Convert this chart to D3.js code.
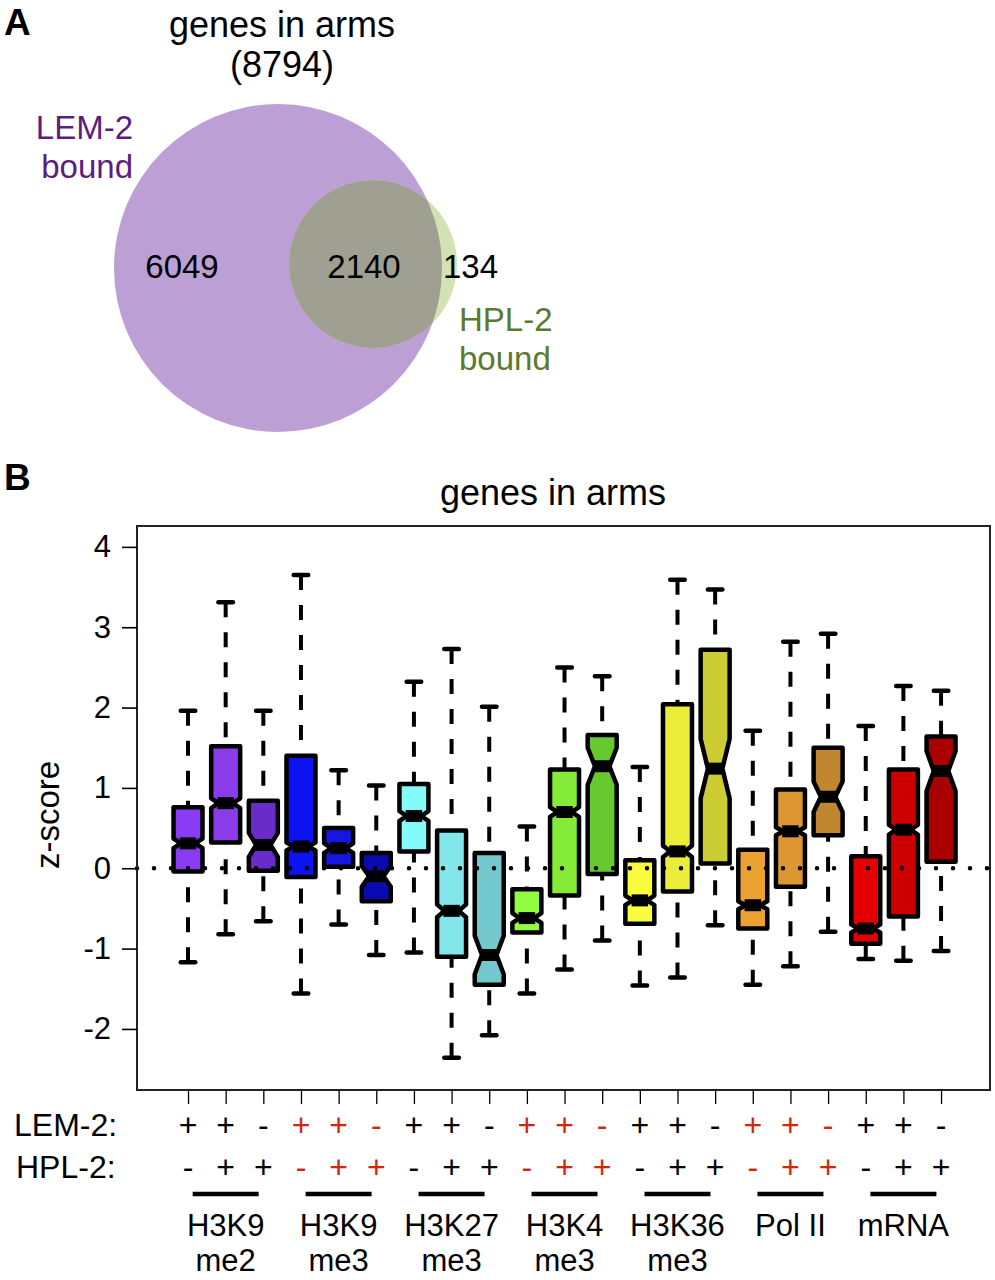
<!DOCTYPE html>
<html>
<head>
<meta charset="utf-8">
<script src="https://cdn.jsdelivr.net/npm/d3@7"></script>
<style>
body { margin: 0; background: #fff; }
svg { display: block; }
text { font-family: "Liberation Sans", Arial, Helvetica, sans-serif; }
</style>
</head>
<body>
<div id="chart"></div>
<script>
// panel A counts
const vennTitle = ["genes in arms", "(8794)"];
const vennCounts = ["6049", "2140", "134"];   // LEM-2 only, both, HPL-2 only

// panel B: 7 marks x 3 conditions
const groupTop = ["H3K9", "H3K9", "H3K27", "H3K4", "H3K36", "Pol II", "mRNA"];
const groupBottom = ["me2", "me3", "me3", "me3", "me3", "", ""];
const lemSigns = ["+", "+", "-"];
const hplSigns = ["-", "+", "+"];
const redGroup = [false, true, false, true, false, true, false];
const yTicks = [-2, -1, 0, 1, 2, 3, 4];

const boxColors = ["#8a3cf4", "#8a3ce8", "#6a2cc8", "#0c12f0", "#1616e0", "#0a0ab2",
  "#84fafa", "#82e6ea", "#72c8cc", "#94fc40", "#84ec38", "#68c830",
  "#fcfc3e", "#ecec3a", "#cccc34", "#eca230", "#dc9632", "#c08630",
  "#e40000", "#cc0000", "#aa0000"];

const whiskerHigh = [1.96, 3.31, 1.96, 3.65, 1.22, 1.03, 2.32, 2.73, 2.01, 0.52, 2.50, 2.39, 1.26, 3.59, 3.47, 1.71, 2.82, 2.92, 1.77, 2.27, 2.21];
const upperQ = [0.76, 1.52, 0.84, 1.40, 0.50, 0.19, 1.05, 0.47, 0.19, -0.26, 1.23, 1.66, 0.10, 2.04, 2.72, 0.23, 0.98, 1.50, 0.15, 1.23, 1.64];
const medians = [0.31, 0.81, 0.29, 0.27, 0.25, -0.10, 0.65, -0.53, -1.08, -0.62, 0.70, 1.27, -0.40, 0.21, 1.24, -0.46, 0.46, 0.89, -0.75, 0.48, 1.21];
const lowerQ = [-0.04, 0.32, -0.03, -0.11, 0.02, -0.41, 0.21, -1.10, -1.45, -0.80, -0.34, -0.07, -0.69, -0.29, 0.06, -0.75, -0.23, 0.41, -0.94, -0.60, 0.08];
const whiskerLow = [-1.17, -0.82, -0.66, -1.56, -0.70, -1.08, -1.05, -2.36, -2.08, -1.56, -1.26, -0.90, -1.46, -1.36, -0.71, -1.45, -1.22, -0.79, -1.13, -1.15, -1.03];
const notchHalf = [0.06, 0.06, 0.15, 0.05, 0.06, 0.13, 0.06, 0.08, 0.24, 0.06, 0.06, 0.23, 0.06, 0.07, 0.37, 0.05, 0.05, 0.19, 0.05, 0.06, 0.25];

const svg = d3.select("#chart").append("svg")
  .attr("width", 995)
  .attr("height", 1280);

// ---------- panel A: venn ----------
svg.append("text").text("A")
  .attr("x", 4).attr("y", 35)
  .attr("font-size", 37).attr("font-weight", "bold");

svg.selectAll(".vtitle")
  .data(vennTitle)
  .join("text")
  .attr("class", "vtitle")
  .text(d => d)
  .attr("x", 282)
  .attr("y", (d, i) => 37 + i * 40)
  .attr("text-anchor", "middle")
  .attr("font-size", 36);

const lem = {cx: 278, cy: 268, r: 164};
const hpl = {cx: 373, cy: 264, r: 84};

svg.append("defs").append("clipPath")
  .attr("id", "hplClip")
  .append("circle")
  .attr("cx", hpl.cx).attr("cy", hpl.cy).attr("r", hpl.r);

svg.append("circle") // LEM-2 set
  .attr("cx", lem.cx).attr("cy", lem.cy).attr("r", lem.r)
  .attr("fill", "#bb9fd5");
svg.append("circle") // HPL-2 set
  .attr("cx", hpl.cx).attr("cy", hpl.cy).attr("r", hpl.r)
  .attr("fill", "#d2e2b5");
svg.append("circle") // overlap
  .attr("cx", lem.cx).attr("cy", lem.cy).attr("r", lem.r)
  .attr("clip-path", "url(#hplClip)")
  .attr("fill", "#9fa092");

svg.selectAll(".vcount")
  .data(vennCounts)
  .join("text")
  .attr("class", "vcount")
  .text(d => d)
  .attr("x", (d, i) => [182, 364, 443][i])
  .attr("y", 278)
  .attr("text-anchor", (d, i) => i == 2 ? "start" : "middle")
  .attr("font-size", 33);

svg.selectAll(".lemlab")
  .data(["LEM-2", "bound"])
  .join("text")
  .attr("class", "lemlab")
  .text(d => d)
  .attr("x", 133)
  .attr("y", (d, i) => 139 + i * 39)
  .attr("text-anchor", "end")
  .attr("font-size", 33)
  .attr("fill", "#5c1e7e");

svg.selectAll(".hpllab")
  .data(["HPL-2", "bound"])
  .join("text")
  .attr("class", "hpllab")
  .text(d => d)
  .attr("x", 459)
  .attr("y", (d, i) => 331 + i * 39)
  .attr("font-size", 33)
  .attr("fill", "#5b7a2c");

// ---------- panel B: boxplots ----------
const margin = {top: 526, right: 5, bottom: 1090, left: 137};

svg.append("text").text("B")
  .attr("x", 4).attr("y", 490)
  .attr("font-size", 37).attr("font-weight", "bold");

svg.append("text").text("genes in arms")
  .attr("x", 553).attr("y", 505)
  .attr("text-anchor", "middle")
  .attr("font-size", 36);

const x = d3.scaleLinear()
  .domain([-0.355, 22.3])
  .range([margin.left, 995 - margin.right]);

const y = d3.scaleLinear()
  .domain([-2.76, 4.26])
  .range([margin.bottom, margin.top]);

const halfW = (x(1) - x(0)) * 0.385;

const boxes = boxColors.map((c, i) => ({
  pos: i + 1, color: c,
  hi: whiskerHigh[i], q3: upperQ[i], med: medians[i], q1: lowerQ[i], lo: whiskerLow[i],
  nh: notchHalf[i]
}));

const bx = svg.selectAll(".box")
  .data(boxes)
  .join("g")
  .attr("class", "box");

// whiskers (dashed), drawn from the staple towards the box
bx.append("line")
  .attr("x1", d => x(d.pos)).attr("x2", d => x(d.pos))
  .attr("y1", d => y(d.hi)).attr("y2", d => y(d.q3))
  .attr("stroke", "#000").attr("stroke-width", 4)
  .attr("stroke-dasharray", "15,15");
bx.append("line")
  .attr("x1", d => x(d.pos)).attr("x2", d => x(d.pos))
  .attr("y1", d => y(d.lo)).attr("y2", d => y(d.q1))
  .attr("stroke", "#000").attr("stroke-width", 4)
  .attr("stroke-dasharray", "15,15");

// staples
for (const key of ["hi", "lo"]) {
  bx.append("line")
    .attr("x1", d => x(d.pos) - halfW / 2).attr("x2", d => x(d.pos) + halfW / 2)
    .attr("y1", d => y(d[key])).attr("y2", d => y(d[key]))
    .attr("stroke", "#000").attr("stroke-width", 4.5)
    .attr("stroke-linecap", "round");
}

// notched box
bx.append("path")
  .attr("d", d => {
    const c = x(d.pos);
    const pts = [
      [c - halfW, y(d.q3)], [c + halfW, y(d.q3)],
      [c + halfW, y(d.med + d.nh)], [c + halfW / 2, y(d.med)], [c + halfW, y(d.med - d.nh)],
      [c + halfW, y(d.q1)], [c - halfW, y(d.q1)],
      [c - halfW, y(d.med - d.nh)], [c - halfW / 2, y(d.med)], [c - halfW, y(d.med + d.nh)]
    ];
    return d3.line()(pts) + "Z";
  })
  .attr("fill", d => d.color)
  .attr("stroke", "#000")
  .attr("stroke-width", 4.5)
  .attr("stroke-linejoin", "round");

// median
bx.append("line")
  .attr("x1", d => x(d.pos) - halfW / 2 - 1).attr("x2", d => x(d.pos) + halfW / 2 + 1)
  .attr("y1", d => y(d.med)).attr("y2", d => y(d.med))
  .attr("stroke", "#000").attr("stroke-width", 12);

// dotted zero line
svg.append("line")
  .attr("x1", x.range()[0]).attr("x2", x.range()[1])
  .attr("y1", y(0)).attr("y2", y(0))
  .attr("stroke", "#000").attr("stroke-width", 4.5)
  .attr("stroke-linecap", "round")
  .attr("stroke-dasharray", "0,17")
  .attr("stroke-dashoffset", -17);

// frame
svg.append("rect")
  .attr("x", margin.left).attr("y", margin.top)
  .attr("width", x.range()[1] - margin.left)
  .attr("height", margin.bottom - margin.top)
  .attr("fill", "none").attr("stroke", "#222").attr("stroke-width", 2);

// axes
const yAxis = svg.append("g")
  .attr("transform", `translate(${margin.left},0)`)
  .call(d3.axisLeft(y).tickValues(yTicks).tickSize(15).tickPadding(11)
    .tickFormat(d => String(d)));
yAxis.select(".domain").remove();
yAxis.selectAll("line").attr("stroke-width", 1.6);
yAxis.selectAll("text")
  .attr("font-size", 31)
  .attr("font-family", "Liberation Sans, Arial, sans-serif")
  .attr("fill", "#000");

const xAxis = svg.append("g")
  .attr("transform", `translate(0,${margin.bottom})`)
  .call(d3.axisBottom(x).tickValues(d3.range(1, 22)).tickSize(14).tickFormat(""));
xAxis.select(".domain").remove();
xAxis.selectAll("line").attr("stroke-width", 1.3);

svg.append("text").text("z-score")
  .attr("transform", "translate(59,815) rotate(-90)")
  .attr("text-anchor", "middle")
  .attr("font-size", 33);

// condition rows
svg.append("text").text("LEM-2:").attr("x", 14).attr("y", 1136).attr("font-size", 32);
svg.append("text").text("HPL-2:").attr("x", 16).attr("y", 1178).attr("font-size", 32);

const signs = boxes.map((d, i) => ({
  pos: d.pos,
  lem: lemSigns[i % 3],
  hpl: hplSigns[i % 3],
  red: redGroup[Math.floor(i / 3)]
}));

svg.selectAll(".lemsign")
  .data(signs)
  .join("text")
  .attr("class", "lemsign")
  .text(d => d.lem)
  .attr("x", d => x(d.pos)).attr("y", 1136)
  .attr("text-anchor", "middle")
  .attr("font-size", 32)
  .attr("fill", d => d.red ? "#d0260e" : "#000");

svg.selectAll(".hplsign")
  .data(signs)
  .join("text")
  .attr("class", "hplsign")
  .text(d => d.hpl)
  .attr("x", d => x(d.pos)).attr("y", 1178)
  .attr("text-anchor", "middle")
  .attr("font-size", 32)
  .attr("fill", d => d.red ? "#d0260e" : "#000");

// group underlines + names
const grp = svg.selectAll(".grp")
  .data(groupTop.map((t, g) => ({top: t, bottom: groupBottom[g], pos: g * 3 + 2})))
  .join("g")
  .attr("class", "grp");

grp.append("line")
  .attr("x1", d => x(d.pos) - 33).attr("x2", d => x(d.pos) + 33)
  .attr("y1", 1194).attr("y2", 1194)
  .attr("stroke", "#000").attr("stroke-width", 4.5);

grp.append("text")
  .text(d => d.top)
  .attr("x", d => x(d.pos)).attr("y", 1236)
  .attr("text-anchor", "middle")
  .attr("font-size", 31);

grp.append("text")
  .text(d => d.bottom)
  .attr("x", d => x(d.pos)).attr("y", 1271)
  .attr("text-anchor", "middle")
  .attr("font-size", 31);
</script>
</body>
</html>
